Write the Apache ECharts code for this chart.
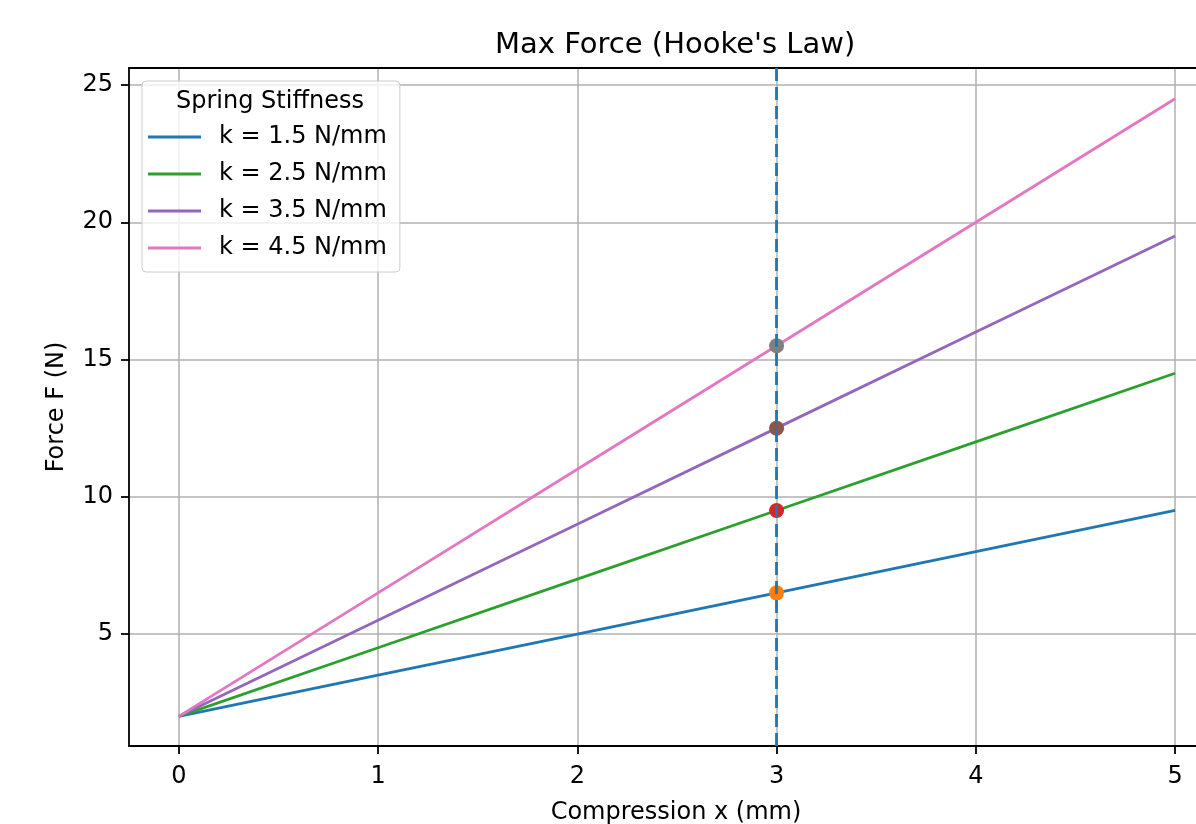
<!DOCTYPE html>
<html>
<head>
<meta charset="utf-8">
<script src="https://cdn.jsdelivr.net/npm/echarts@6/dist/echarts.min.js"></script>
<style>
  html, body { margin: 0; padding: 0; background: #fff; }
  #chart { width: 1196px; height: 824px; }
</style>
</head>
<body>
<div id="chart"></div>
<script>
// compression (mm)
const compression = [0, 1, 2, 3, 4, 5]
// force (N) for each stiffness
const force15 = [2, 3.5, 5, 6.5, 8, 9.5]
const force25 = [2, 4.5, 7, 9.5, 12, 14.5]
const force35 = [2, 5.5, 9, 12.5, 16, 19.5]
const force45 = [2, 6.5, 11, 15.5, 20, 24.5]
const stiffNames = ['k = 1.5 N/mm', 'k = 2.5 N/mm', 'k = 3.5 N/mm', 'k = 4.5 N/mm']
// max force points at x = 3
const maxX = 3
const maxForce = [6.5, 9.5, 12.5, 15.5]
// tick labels
const xTicks = [0, 1, 2, 3, 4, 5]
const yTicks = [5, 10, 15, 20, 25]

const lineColors = ['#1f77b4', '#2ca02c', '#9467bd', '#e377c2']
const dotColors = ['#ff7f0e', '#d62728', '#8c564b', '#7f7f7f']
const font = 'DejaVu Sans'
const xMin = -0.25, xMax = 5.105

const chart = echarts.init(document.getElementById('chart'))

const pairs = ys => compression.map((x, i) => [x, ys[i]])
const lineSeries = [force15, force25, force35, force45].map((ys, i) => ({
  name: stiffNames[i],
  type: 'line',
  data: pairs(ys),
  showSymbol: false,
  symbol: 'none',
  color: lineColors[i],
  lineStyle: { width: 2.8 },
  z: 2
}))

chart.setOption({
  animation: false,
  title: {
    text: "Max Force (Hooke's Law)",
    left: 495,
    top: 31,
    padding: 0,
    textStyle: { fontFamily: font, fontSize: 29, fontWeight: 'normal', color: '#000' }
  },
  grid: { left: 129, right: 0, top: 68, bottom: 78, outerBoundsMode: 'none', containLabel: false },
  legend: {
    orient: 'vertical',
    left: 142,
    top: 81,
    padding: [44, 13, 12, 6],
    itemGap: 13,
    itemWidth: 53,
    itemHeight: 3,
    icon: 'rect',
    data: stiffNames,
    backgroundColor: 'rgba(255,255,255,0.8)',
    borderColor: '#cccccc',
    borderWidth: 1,
    borderRadius: 4,
    textStyle: { fontFamily: font, fontSize: 24, lineHeight: 24, color: '#000', padding: [0, 0, 0, 13] }
  },
  graphic: [{
    type: 'text',
    left: 176,
    top: 90,
    z: 100,
    style: { text: 'Spring Stiffness', fontFamily: font, fontSize: 24, fill: '#000' }
  }],
  xAxis: [{
    type: 'value',
    min: xMin,
    max: xMax,
    name: 'Compression x (mm)',
    nameLocation: 'middle',
    nameGap: 55,
    nameTextStyle: { fontFamily: font, fontSize: 24, color: '#000', padding: [0, 0, 0, 27] },
    axisLine: { show: true, onZero: false, lineStyle: { color: '#000', width: 1.8 } },
    axisTick: { show: true, customValues: xTicks, length: 8, lineStyle: { color: '#000', width: 1.8 } },
    axisLabel: { customValues: xTicks, margin: 19, fontFamily: font, fontSize: 24, color: '#000' },
    splitLine: { show: true, lineStyle: { color: '#b0b0b0', width: 1.5 } }
  }, {
    type: 'value',
    position: 'top',
    min: xMin,
    max: xMax,
    axisLine: { show: true, onZero: false, lineStyle: { color: '#000', width: 1.8 } },
    axisTick: { show: false },
    axisLabel: { show: false },
    splitLine: { show: false }
  }],
  yAxis: {
    type: 'value',
    min: 0.92,
    max: 25.62,
    name: 'Force F (N)',
    nameLocation: 'middle',
    nameGap: 60,
    nameTextStyle: { fontFamily: font, fontSize: 24, color: '#000' },
    axisLine: { show: true, onZero: false, lineStyle: { color: '#000', width: 1.8 } },
    axisTick: { show: true, customValues: yTicks, length: 8, lineStyle: { color: '#000', width: 1.8 } },
    axisLabel: { customValues: yTicks, margin: 16, fontFamily: font, fontSize: 24, color: '#000' },
    splitLine: { show: true, lineStyle: { color: '#b0b0b0', width: 1.5 } }
  },
  series: [
    ...lineSeries,
    {
      type: 'scatter',
      data: maxForce.map((y, i) => ({ value: [maxX, y], itemStyle: { color: dotColors[i], opacity: 1 } })),
      symbolSize: 15,
      z: 3
    },
    {
      type: 'line',
      data: [],
      z: 4,
      markLine: {
        silent: true,
        symbol: 'none',
        label: { show: false },
        lineStyle: { color: '#1f77b4', type: [13, 6], width: 2.8, opacity: 1 },
        data: [{ xAxis: maxX }]
      }
    }
  ]
})
</script>
</body>
</html>
